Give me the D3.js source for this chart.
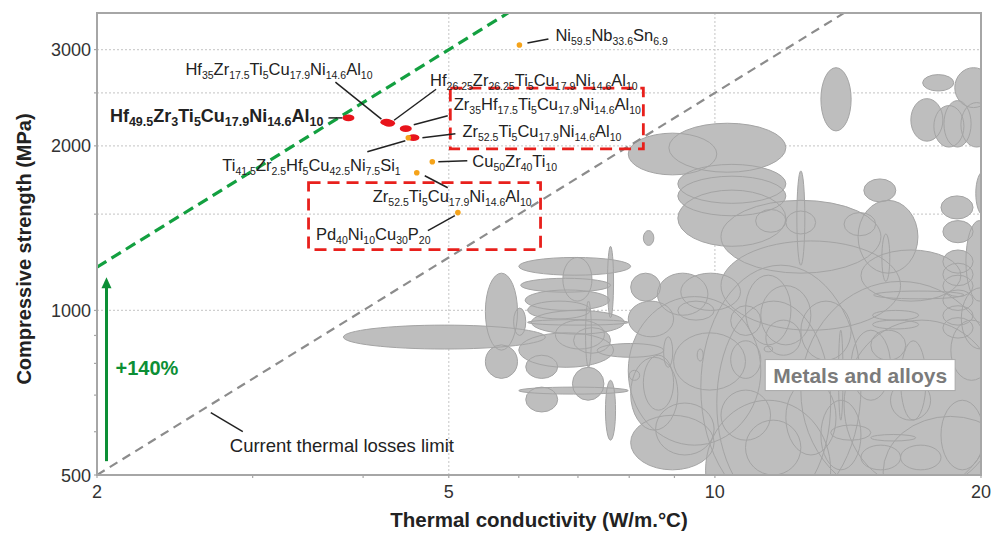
<!DOCTYPE html>
<html>
<head>
<meta charset="utf-8">
<script src="https://cdn.jsdelivr.net/npm/d3@7"></script>
<style>
  body { margin: 0; background: #fff; }
  svg { display: block; }
  text { font-family: "Liberation Sans", Arial, Helvetica, sans-serif; }
</style>
</head>
<body>
<svg id="chart" width="993" height="534"></svg>
<script>
// ---------- data ----------
const xTicks = [2, 5, 10, 20];
const yTicks = [500, 1000, 2000, 3000];
const xGrid = [5, 10];
const yGrid = [1000, 1500, 2000, 2500, 3000];
const xMinor = [3, 4, 6, 7, 8, 9];
const yMinor = [600, 700, 800, 900, 1500, 2500];

// glassy alloys: thermal conductivity (W/m.°C) and compressive strength (MPa)
const alloyNames = [
  "Hf49.5Zr3Ti5Cu17.9Ni14.6Al10",
  "Hf35Zr17.5Ti5Cu17.9Ni14.6Al10",
  "Hf26.25Zr26.25Ti5Cu17.9Ni14.6Al10",
  "Zr35Hf17.5Ti5Cu17.9Ni14.6Al10",
  "Zr52.5Ti5Cu17.9Ni14.6Al10",
  "Ti41.5Zr2.5Hf5Cu42.5Ni7.5Si1",
  "Cu50Zr40Ti10",
  "Zr52.5Ti5Cu17.9Ni14.6Al10",
  "Pd40Ni10Cu30P20",
  "Ni59.5Nb33.6Sn6.9"
];
const alloyK = [3.85, 4.25, 4.28, 4.47, 4.56, 4.50, 4.79, 4.60, 5.12, 6.01];
const alloyS = [2250, 2210, 2200, 2150, 2070, 2070, 1870, 1786, 1510, 3058];
const alloySource = ["new", "new", "new", "new", "new", "lit", "lit", "lit", "lit", "lit"];

// strength-to-conductivity ratios (MPa per W/m.°C) of the two guide lines
const limitRatio = 250;
const targetRatio = 600;

// highlighted label groups: [kLo, kHi, sLo, sHi]
const highlightBoxes = [
  [5.02, 8.30, 1975, 2550],
  [3.47, 6.35, 1292, 1713]
];

// metals and alloys property envelopes: [kLo, kHi, sLo, sHi]
const metalRanges = [
  [3.80, 6.43, 850, 940],
  [8.30, 8.53, 1315, 1400],
  [7.98, 10.05, 1770, 2110],
  [8.87, 12.03, 1790, 2200],
  [9.08, 12.03, 1570, 1850],
  [9.08, 12.03, 1490, 1760],
  [9.08, 12.03, 1310, 1660],
  [10.16, 15.41, 1170, 1590],
  [12.38, 12.64, 1210, 1800],
  [11.12, 12.03, 1390, 1530],
  [12.03, 13.0, 1380, 1520],
  [13.18, 14.26, 2130, 2780],
  [17.18, 18.63, 2520, 2700],
  [18.68, 20.6, 2350, 2780],
  [16.66, 18.11, 2040, 2440],
  [17.69, 19.13, 1990, 2370],
  [18.16, 19.49, 1990, 2420],
  [18.98, 20.6, 1990, 2400],
  [14.74, 16.02, 1580, 1740],
  [14.0, 15.2, 1370, 1510],
  [14.52, 16.97, 1170, 1590],
  [15.45, 15.77, 1130, 1380],
  [18.02, 19.59, 1470, 1620],
  [18.11, 19.59, 1330, 1460],
  [19.73, 20.6, 1490, 1800],
  [14.63, 18.98, 1040, 1290],
  [18.11, 19.59, 1170, 1290],
  [18.11, 19.59, 1110, 1220],
  [18.11, 19.59, 1060, 1160],
  [18.11, 19.59, 1000, 1090],
  [18.11, 19.59, 940, 1020],
  [18.11, 19.59, 890, 970],
  [15.12, 19.13, 1050, 1085],
  [15.08, 17.0, 960, 1000],
  [15.08, 17.0, 925, 960],
  [19.23, 20.6, 1040, 1460],
  [6.1, 7.6, 1000, 1090],
  [6.2, 7.9, 905, 1000],
  [6.6, 7.5, 850, 960],
  [6.0, 8.03, 1160, 1250],
  [6.03, 7.62, 1080, 1145],
  [7.56, 7.68, 970, 1310],
  [6.73, 7.26, 1040, 1250],
  [5.50, 5.98, 846, 1170],
  [5.50, 5.98, 751, 865],
  [5.92, 6.11, 900, 1010],
  [6.14, 7.98, 940, 962],
  [6.0, 7.68, 787, 910],
  [6.11, 6.64, 751, 828],
  [6.11, 6.64, 652, 724],
  [6.90, 7.49, 685, 787],
  [7.52, 7.72, 579, 745],
  [7.14, 7.25, 787, 1040],
  [6.92, 7.62, 835, 930],
  [7.36, 8.75, 821, 870],
  [8.75, 8.96, 787, 895],
  [6.0, 7.98, 703, 724],
  [6.14, 7.23, 965, 1040],
  [8.03, 8.68, 1040, 1170],
  [8.61, 9.82, 980, 1170],
  [9.15, 10.69, 1000, 1170],
  [7.98, 8.98, 895, 1040],
  [8.30, 8.98, 657, 828],
  [8.03, 9.08, 604, 821],
  [8.98, 10.83, 715, 910],
  [8.57, 9.98, 544, 677],
  [8.03, 9.98, 511, 643],
  [9.08, 9.98, 960, 1040],
  [7.98, 11.27, 567, 1060],
  [9.64, 14.63, 432, 1210],
  [12.51, 21.0, 450, 1130],
  [10.05, 13.52, 440, 1040],
  [14.0, 21.0, 470, 960],
  [10.16, 16.22, 920, 1340],
  [10.42, 11.27, 900, 1020],
  [10.83, 12.19, 865, 1160],
  [11.27, 12.84, 865, 1110],
  [11.42, 12.51, 828, 960],
  [10.42, 11.27, 751, 880],
  [12.03, 13.71, 544, 745],
  [13.18, 14.63, 511, 685],
  [10.83, 12.51, 500, 630],
  [10.16, 11.56, 579, 715],
  [13.52, 15.01, 579, 617],
  [15.01, 16.87, 577, 593],
  [14.63, 16.22, 511, 567],
  [16.22, 18.02, 511, 567],
  [18.02, 20.14, 511, 685],
  [18.49, 20.6, 745, 960],
  [15.80, 17.54, 630, 745],
  [15.01, 16.44, 811, 920],
  [16.22, 17.33, 630, 880],
  [14.26, 15.80, 685, 920],
  [13.80, 13.96, 630, 920],
  [12.51, 14.26, 811, 1040],
  [9.55, 9.70, 808, 850],
  [11.37, 11.62, 840, 860],
  [8.00, 8.22, 745, 777],
  [9.76, 13.52, 380, 685],
  [15.5, 22.0, 400, 640],
  [19.0, 21.0, 850, 1100]
];

// ---------- layout (pixel offsets of labels and leaders from each point) ----------
const labelOffset = [[-25, 4], [-201, -47], [41, -37], [48, -19], [49, -1], [-186, 33], [40, 5], [-44, 29], [-142, 27], [36, -4]];
const labelAnchor = ["end", "start", "start", "start", "start", "start", "start", "start", "start", "start"];
const leaderOffset = [
  [-20, 0, -6, 0], [-51, -40, -5, -3], [5, -3, 47, -34], [8, -4, 42, -13], [9, 0, 42, -4],
  [-41, 14, -3, 3], [6, 0, 35, -1], [8, 3, 31, 15], [-30, 18, -3, 3], [8, -2, 29, -6]
];

// ---------- scales ----------
const svg = d3.select("#chart");
const x = d3.scaleLog().domain([2, 20]).range([97, 981]);
const y = d3.scaleLog().domain([500, 3500]).range([475, 13]);
const [x0, x1] = x.range();
const [y0, y1] = [y.range()[1], y.range()[0]];

svg.append("defs").append("clipPath").attr("id", "plot")
  .append("rect").attr("x", x0).attr("y", y0).attr("width", x1 - x0).attr("height", y1 - y0);

// ---------- grid ----------
const grid = svg.append("g").attr("stroke", "#cfcfcf").attr("stroke-width", 1.2).attr("stroke-dasharray", "2 2");
grid.selectAll(".gy").data(yGrid).join("line")
  .attr("x1", x0).attr("x2", x1).attr("y1", d => y(d)).attr("y2", d => y(d));
grid.selectAll(".gx").data(xGrid).join("line")
  .attr("y1", y0).attr("y2", y1).attr("x1", d => x(d)).attr("x2", d => x(d));

// ---------- metals and alloys envelopes ----------
const bub = svg.append("g").attr("clip-path", "url(#plot)");
const ell = r => ({
  cx: (x(r[0]) + x(r[1])) / 2, rx: (x(r[1]) - x(r[0])) / 2,
  cy: (y(r[2]) + y(r[3])) / 2, ry: (y(r[2]) - y(r[3])) / 2
});
const metalShapes = metalRanges.map(ell);
bub.append("g").selectAll("ellipse").data(metalShapes).join("ellipse")
  .attr("cx", d => d.cx).attr("cy", d => d.cy).attr("rx", d => d.rx).attr("ry", d => d.ry)
  .attr("fill", "#bebebe");
bub.append("g").selectAll("ellipse").data(metalShapes).join("ellipse")
  .attr("cx", d => d.cx).attr("cy", d => d.cy).attr("rx", d => d.rx).attr("ry", d => d.ry)
  .attr("fill", "none").attr("stroke", "#a4a4a4").attr("stroke-width", 1);

// ---------- guide lines ----------
const guide = svg.append("g").attr("clip-path", "url(#plot)");
const line = d3.line().x(d => x(d[0])).y(d => y(d[1]));
guide.append("path")
  .attr("d", line(x.domain().map(k => [k, limitRatio * k])))
  .attr("fill", "none").attr("stroke", "#8c8c8c").attr("stroke-width", 2.2).attr("stroke-dasharray", "9 6");
guide.append("path")
  .attr("d", line(x.domain().map(k => [k, targetRatio * k])))
  .attr("fill", "none").attr("stroke", "#13a040").attr("stroke-width", 3.2).attr("stroke-dasharray", "11 6");

// improvement arrow at the left edge
const kArrow = 2.05, arrowLow = 530, arrowHigh = 1150;
const ax = x(kArrow), ayTop = y(arrowHigh), ayBot = y(arrowLow);
svg.append("line").attr("x1", ax).attr("x2", ax).attr("y1", ayBot).attr("y2", ayTop + 8)
  .attr("stroke", "#0c8f35").attr("stroke-width", 3);
svg.append("path")
  .attr("d", `M${ax - 5},${ayTop + 11} L${ax + 5},${ayTop + 11} L${ax},${ayTop} Z`)
  .attr("fill", "#0c8f35");
svg.append("text")
  .attr("x", ax + 9).attr("y", y(761))
  .attr("font-size", 20).attr("font-weight", "bold").attr("fill", "#0c8f35")
  .text(`+${Math.round((targetRatio / limitRatio - 1) * 100)}%`);

// thermal losses annotation
const kLimitLabel = 2.69;
const lpx = x(kLimitLabel), lpy = y(limitRatio * kLimitLabel);
svg.append("line").attr("x1", lpx).attr("y1", lpy + 8).attr("x2", lpx + 32).attr("y2", lpy + 27)
  .attr("stroke", "#222").attr("stroke-width", 1.5);
svg.append("text").attr("x", lpx + 19).attr("y", lpy + 47)
  .attr("font-size", 18.5).attr("fill", "#222").text("Current thermal losses limit");

// ---------- highlight boxes ----------
svg.append("g").selectAll("rect").data(highlightBoxes).join("rect")
  .attr("x", d => x(d[0])).attr("y", d => y(d[3]))
  .attr("width", d => x(d[1]) - x(d[0])).attr("height", d => y(d[2]) - y(d[3]))
  .attr("fill", "none").attr("stroke", "#e8201c").attr("stroke-width", 2.8).attr("stroke-dasharray", "12 7");

// ---------- alloy points, leaders and labels ----------
const pts = alloyNames.map((n, i) => ({
  name: n, px: x(alloyK[i]), py: y(alloyS[i]), src: alloySource[i], i
}));

svg.append("g").selectAll("line").data(pts).join("line")
  .attr("x1", d => d.px + leaderOffset[d.i][0]).attr("y1", d => d.py + leaderOffset[d.i][1])
  .attr("x2", d => d.px + leaderOffset[d.i][2]).attr("y2", d => d.py + leaderOffset[d.i][3])
  .attr("stroke", "#222").attr("stroke-width", 1.5);

svg.append("g").selectAll("ellipse").data(pts).join("ellipse")
  .attr("cx", d => d.px).attr("cy", d => d.py)
  .attr("rx", d => d.src === "new" ? 6 : 2.8).attr("ry", d => d.src === "new" ? 3.4 : 2.8)
  .attr("fill", d => d.src === "new" ? "#e8141b" : "#f5a31a");

function formulaParts(name) {
  const parts = [];
  name.replace(/([A-Z][a-z]?)([\d.]*)/g, (m, el, num) => { parts.push([el, num]); return m; });
  return parts;
}

pts.forEach(d => {
  const bold = d.i === 0;
  const main = bold ? 18 : 16.5, sub = bold ? 12.5 : 10.5, shift = bold ? 4.5 : 4;
  const t = svg.append("text")
    .attr("x", d.px + labelOffset[d.i][0]).attr("y", d.py + labelOffset[d.i][1])
    .attr("text-anchor", labelAnchor[d.i])
    .attr("fill", "#222").attr("font-weight", bold ? "bold" : "normal");
  let down = false;
  formulaParts(d.name).forEach(([el, num]) => {
    t.append("tspan").attr("font-size", main).attr("dy", down ? -shift : 0).text(el);
    down = false;
    if (num) {
      t.append("tspan").attr("font-size", sub).attr("dy", shift).text(num);
      down = true;
    }
  });
});

// ---------- metals label ----------
const mk = 14.6, ms = 760;
const mLabel = svg.append("g");
const mText = mLabel.append("text")
  .attr("x", x(mk)).attr("y", y(ms) + 7.5).attr("text-anchor", "middle")
  .attr("font-size", 21).attr("font-weight", "bold").attr("fill", "#7b7b7b")
  .text("Metals and alloys");
const bb = mText.node().getBBox();
mLabel.insert("rect", "text")
  .attr("x", bb.x - 8).attr("y", y(ms) - 16).attr("width", bb.width + 16).attr("height", 31)
  .attr("fill", "#fff").attr("stroke", "#a8a8a8").attr("stroke-width", 1);

// ---------- frame, ticks and labels ----------
svg.append("rect").attr("x", x0).attr("y", y0).attr("width", x1 - x0).attr("height", y1 - y0)
  .attr("fill", "none").attr("stroke", "#a6a6a6").attr("stroke-width", 2);

const ticks = svg.append("g").attr("stroke", "#a6a6a6").attr("stroke-width", 1.2);
ticks.selectAll(".tx").data(xTicks.concat(xMinor)).join("line")
  .attr("x1", d => x(d)).attr("x2", d => x(d)).attr("y1", y1).attr("y2", y1 + 3);
ticks.selectAll(".ty").data(yTicks.concat(yMinor)).join("line")
  .attr("x1", x0 - 3).attr("x2", x0).attr("y1", d => y(d)).attr("y2", d => y(d));

svg.append("g").selectAll("text").data(yTicks).join("text")
  .attr("x", x0 - 6).attr("y", d => y(d) + 6.5).attr("text-anchor", "end")
  .attr("font-size", 18).attr("fill", "#333").text(d => d);
svg.append("g").selectAll("text").data(xTicks).join("text")
  .attr("x", d => x(d)).attr("y", 498).attr("text-anchor", "middle")
  .attr("font-size", 18).attr("fill", "#333").text(d => d);

svg.append("text")
  .attr("transform", `translate(31,${(y0 + y1) / 2 + 5}) rotate(-90)`)
  .attr("text-anchor", "middle").attr("font-size", 20).attr("font-weight", "bold").attr("fill", "#222")
  .text("Compressive strength (MPa)");
svg.append("text")
  .attr("x", 539).attr("y", 527).attr("text-anchor", "middle")
  .attr("font-size", 20.5).attr("font-weight", "bold").attr("fill", "#222")
  .text("Thermal conductivity (W/m.°C)");
</script>
</body>
</html>
